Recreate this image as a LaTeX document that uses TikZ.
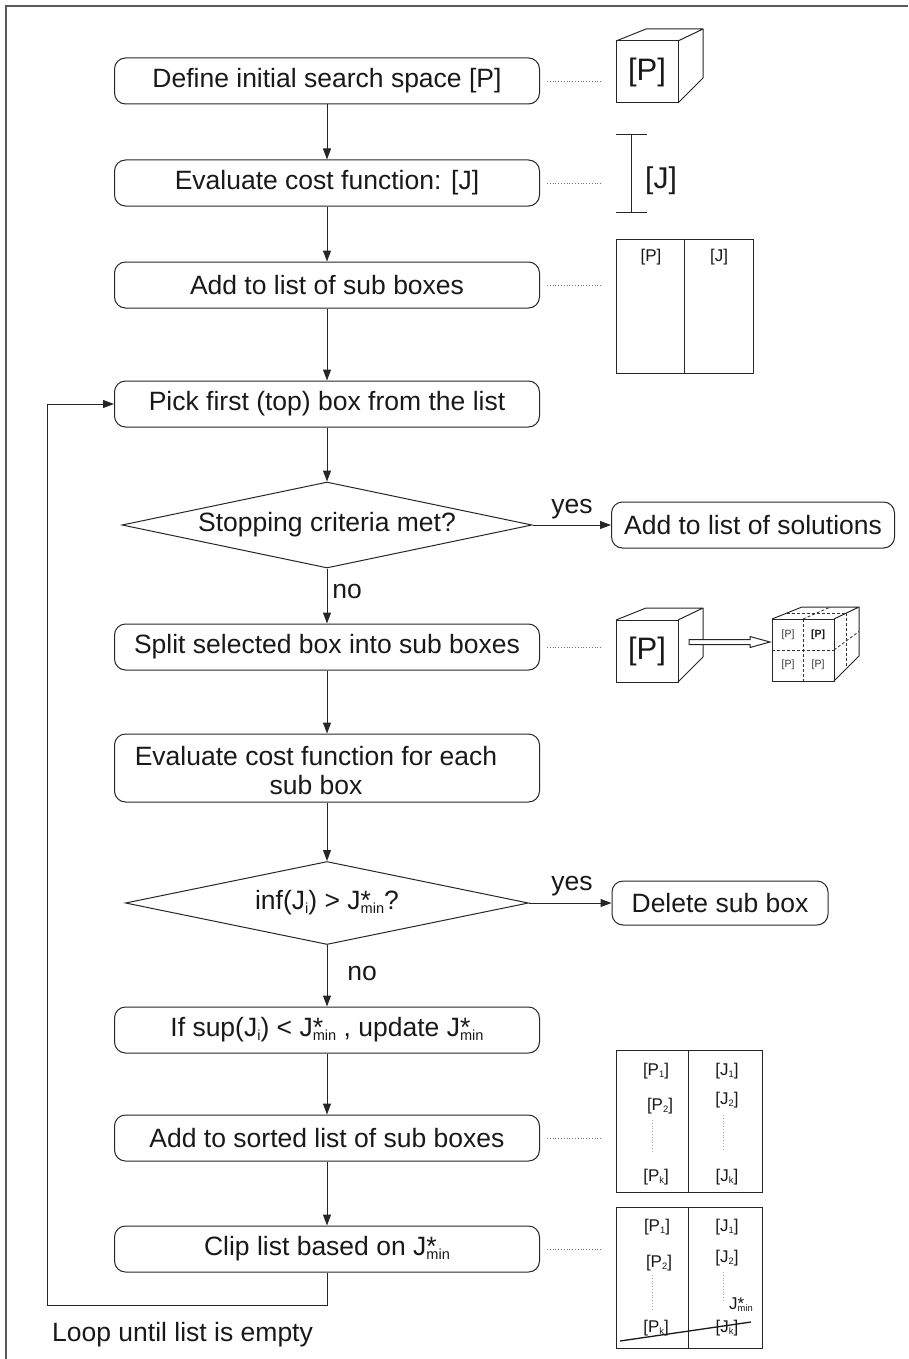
\documentclass[tikz,border=0pt]{standalone}
\usepackage{fontspec}
\setmainfont{Liberation Sans}
\usepackage{graphicx}
\usetikzlibrary{shapes.geometric,arrows.meta}
\newcommand{\mainf}{\fontsize{26.5}{29}\selectfont}
\newcommand{\tabf}{\fontsize{17}{20}\selectfont}
\newcommand{\sbs}[1]{\raisebox{-0.25ex}{\scalebox{0.55}{#1}}}
\newcommand{\Jm}{J\rlap{*}\sbs{min}}
\begin{document}
\begin{tikzpicture}[x=1pt,y=-1pt,
  ln/.style={line width=1pt, draw=black!85},
  box/.style={draw=black!85, line width=1pt, rounded corners=11pt, minimum width=425pt, minimum height=46pt, inner sep=0pt, align=center, font=\mainf, text=black!90},
  dec/.style={draw=black!85, line width=1pt, diamond, aspect=4.7, inner sep=0pt, font=\mainf, text=black!90},
  lbl/.style={font=\mainf, inner sep=0pt, text=black!90},
  tl/.style={font=\tabf, inner sep=0pt, text=black!90},
  arr/.style={line width=1pt, draw=black!85, -{Triangle[length=11pt,width=8pt]}},
  dotline/.style={draw=black!55, line width=0.8pt, dotted},
  cubepic/.pic={
    \draw[ln, fill=white] (0,0) rectangle (62,62);
    \draw[ln, line join=round] (0,0) -- (30,-12) -- (87,-12) -- (62,0);
    \draw[ln, line join=round] (87,-12) -- (87,37) -- (62,62);
  }]
\useasboundingbox (0,0) rectangle (908,1359);
% frame
\draw[line width=2pt, black!65] (6,1359) -- (6,6) -- (908,6);

% main flow
\node[box] (b1) at (327,81) {Define initial search space [P]};
\node[box] (b2) at (327,183) {Evaluate cost function: [J]};
\node[box] (b3) at (327,285) {Add to list of sub boxes};
\node[box] (b4) at (327,404) {Pick first (top) box from the list};
\node[dec, minimum width=410pt, minimum height=86pt] (d1) at (327,525) {Stopping criteria met?};
\node[box, minimum width=283pt] (sol) at (753,525) {Add to list of solutions};
\node[box] (b5) at (327,647) {Split selected box into sub boxes};
\node[box, minimum height=68pt] (b6) at (327,768) {\hspace*{-22pt}\raisebox{-6pt}[\height][\depth]{\begin{tabular}{@{}c@{}}Evaluate cost function for each\\sub box\end{tabular}}};
\node[dec, minimum width=403pt, minimum height=83pt] (d2) at (327,903) {inf(J\sbs{i}) > \Jm?};
\node[box, minimum width=216pt, minimum height=44pt] (del) at (720,903) {Delete sub box};
\node[box] (b7) at (327,1030) {If sup(J\sbs{i}) < \Jm{} , update \Jm};
\node[box] (b8) at (327,1138) {Add to sorted list of sub boxes};
\node[box] (b9) at (327,1249) {Clip list based on \Jm};

\node[lbl] (y1) at (572,509) {yes};
\node[lbl] (n1) at (347,591) {no};
\node[lbl] (y2) at (572,886) {yes};
\node[lbl] (n2) at (362,973) {no};
\node[lbl, anchor=west] (loop) at (52,1335) {Loop until list is empty};

\draw[arr] (b1) -- (b2);
\draw[arr] (b2) -- (b3);
\draw[arr] (b3) -- (b4);
\draw[arr] (b4) -- (d1);
\draw[arr] (d1) -- (b5);
\draw[arr] (b5) -- (b6);
\draw[arr] (b6) -- (d2);
\draw[arr] (d2) -- (b7);
\draw[arr] (b7) -- (b8);
\draw[arr] (b8) -- (b9);
\draw[arr] (d1.east) -- (sol.west);
\draw[arr] (d2.east) -- (del.west);
\coordinate (lb) at (47,1305);
\draw[arr] (b9.south) |- (lb) |- (b4.west);

% dotted links
\coordinate (c1) at (601,81);
\coordinate (c2) at (601,183);
\coordinate (c3) at (601,285);
\coordinate (c5) at (601,647);
\coordinate (c8) at (601,1138);
\coordinate (c9) at (601,1249);
\draw[dotline] ([xshift=7pt]b1.east) -- (c1);
\draw[dotline] ([xshift=7pt]b2.east) -- (c2);
\draw[dotline] ([xshift=7pt]b3.east) -- (c3);
\draw[dotline] ([xshift=7pt]b5.east) -- (c5);
\draw[dotline] ([xshift=7pt]b8.east) -- (c8);
\draw[dotline] ([xshift=7pt]b9.east) -- (c9);

% cube [P]
\pic at (616,41) {cubepic};
\node[font=\fontsize{31}{34}\selectfont, inner sep=0pt, text=black!90] (cubeP) at (647,72) {[P]};

% interval [J]
\draw[ln] (631,135) -- (631,212);
\draw[ln] (616,135) -- (647,135);
\draw[ln] (616,212) -- (647,212);
\node[font=\fontsize{30}{33}\selectfont, inner sep=0pt, text=black!90] (intJ) at (661,181) {[J]};

% list table
\draw[ln] (616,239) rectangle (753,373);
\draw[ln] (684,239) -- (684,373);
\node[tl] (t1p) at (651,257) {[P]};
\node[tl] (t1j) at (719,257) {[J]};

% split cubes
\pic at (616,620) {cubepic};
\node[font=\fontsize{31}{34}\selectfont, inner sep=0pt, text=black!90] (cube2P) at (647,651) {[P]};
\draw[ln, fill=white, line join=miter] (689,639.5) -- (750,639.5) -- (750,636.5) -- (770,642) -- (750,647.5) -- (750,644.5) -- (689,644.5) -- cycle;
\pic at (772,619) {cubepic};
\begin{scope}[shift={(772,619)}, line width=0.8pt, black!80, dashed, dash pattern=on 3pt off 2pt]
  \draw (31,0) -- (31,62);
  \draw (0,31) -- (62,31);
  \draw (31,0) -- (58.5,-12);
  \draw (15,-6) -- (74.5,-6);
  \draw (74.5,-6) -- (74.5,49.5);
  \draw (62,31) -- (87,12.5);
\end{scope}
\node[font=\fontsize{10.5}{12}\selectfont, inner sep=0pt, text=black!80] (s1) at (788,635) {[P]};
\node[font=\fontsize{10.5}{12}\selectfont\bfseries, inner sep=0pt, text=black!90] (s2) at (818,635) {[P]};
\node[font=\fontsize{10.5}{12}\selectfont, inner sep=0pt, text=black!80] (s3) at (788,665) {[P]};
\node[font=\fontsize{10.5}{12}\selectfont, inner sep=0pt, text=black!80] (s4) at (818,665) {[P]};

% sorted list table
\draw[ln] (616,1050) rectangle (762,1192);
\draw[ln] (688,1050) -- (688,1192);
\node[tl] (a1) at (656,1071) {[P\sbs{1}]};
\node[tl] (a2) at (727,1071) {[J\sbs{1}]};
\node[tl] (a3) at (660,1106) {[P\sbs{2}]};
\node[tl] (a4) at (727,1100) {[J\sbs{2}]};
\draw[dotline, draw=black!35] (652,1120) -- (652,1152);
\draw[dotline, draw=black!35] (723,1115) -- (723,1150);
\node[tl] (a5) at (656,1177) {[P\sbs{k}]};
\node[tl] (a6) at (727,1177) {[J\sbs{k}]};

% clipped list table
\draw[ln] (616,1207) rectangle (762,1348);
\draw[ln] (688,1207) -- (688,1348);
\node[tl] (e1) at (657,1227) {[P\sbs{1}]};
\node[tl] (e2) at (727,1227) {[J\sbs{1}]};
\node[tl] (e3) at (659,1263) {[P\sbs{2}]};
\node[tl] (e4) at (727,1258) {[J\sbs{2}]};
\draw[dotline, draw=black!35] (652,1275) -- (652,1310);
\draw[dotline, draw=black!35] (723,1272) -- (723,1302);
\node[tl] (e5) at (741,1305) {\Jm};
\node[tl] (e6) at (656,1328) {[P\sbs{k}]};
\node[tl] (e7) at (727,1328) {[J\sbs{k}]};
\draw[line width=1.3pt, black!90] (620,1341) -- (751,1322);
\end{tikzpicture}
\end{document}
